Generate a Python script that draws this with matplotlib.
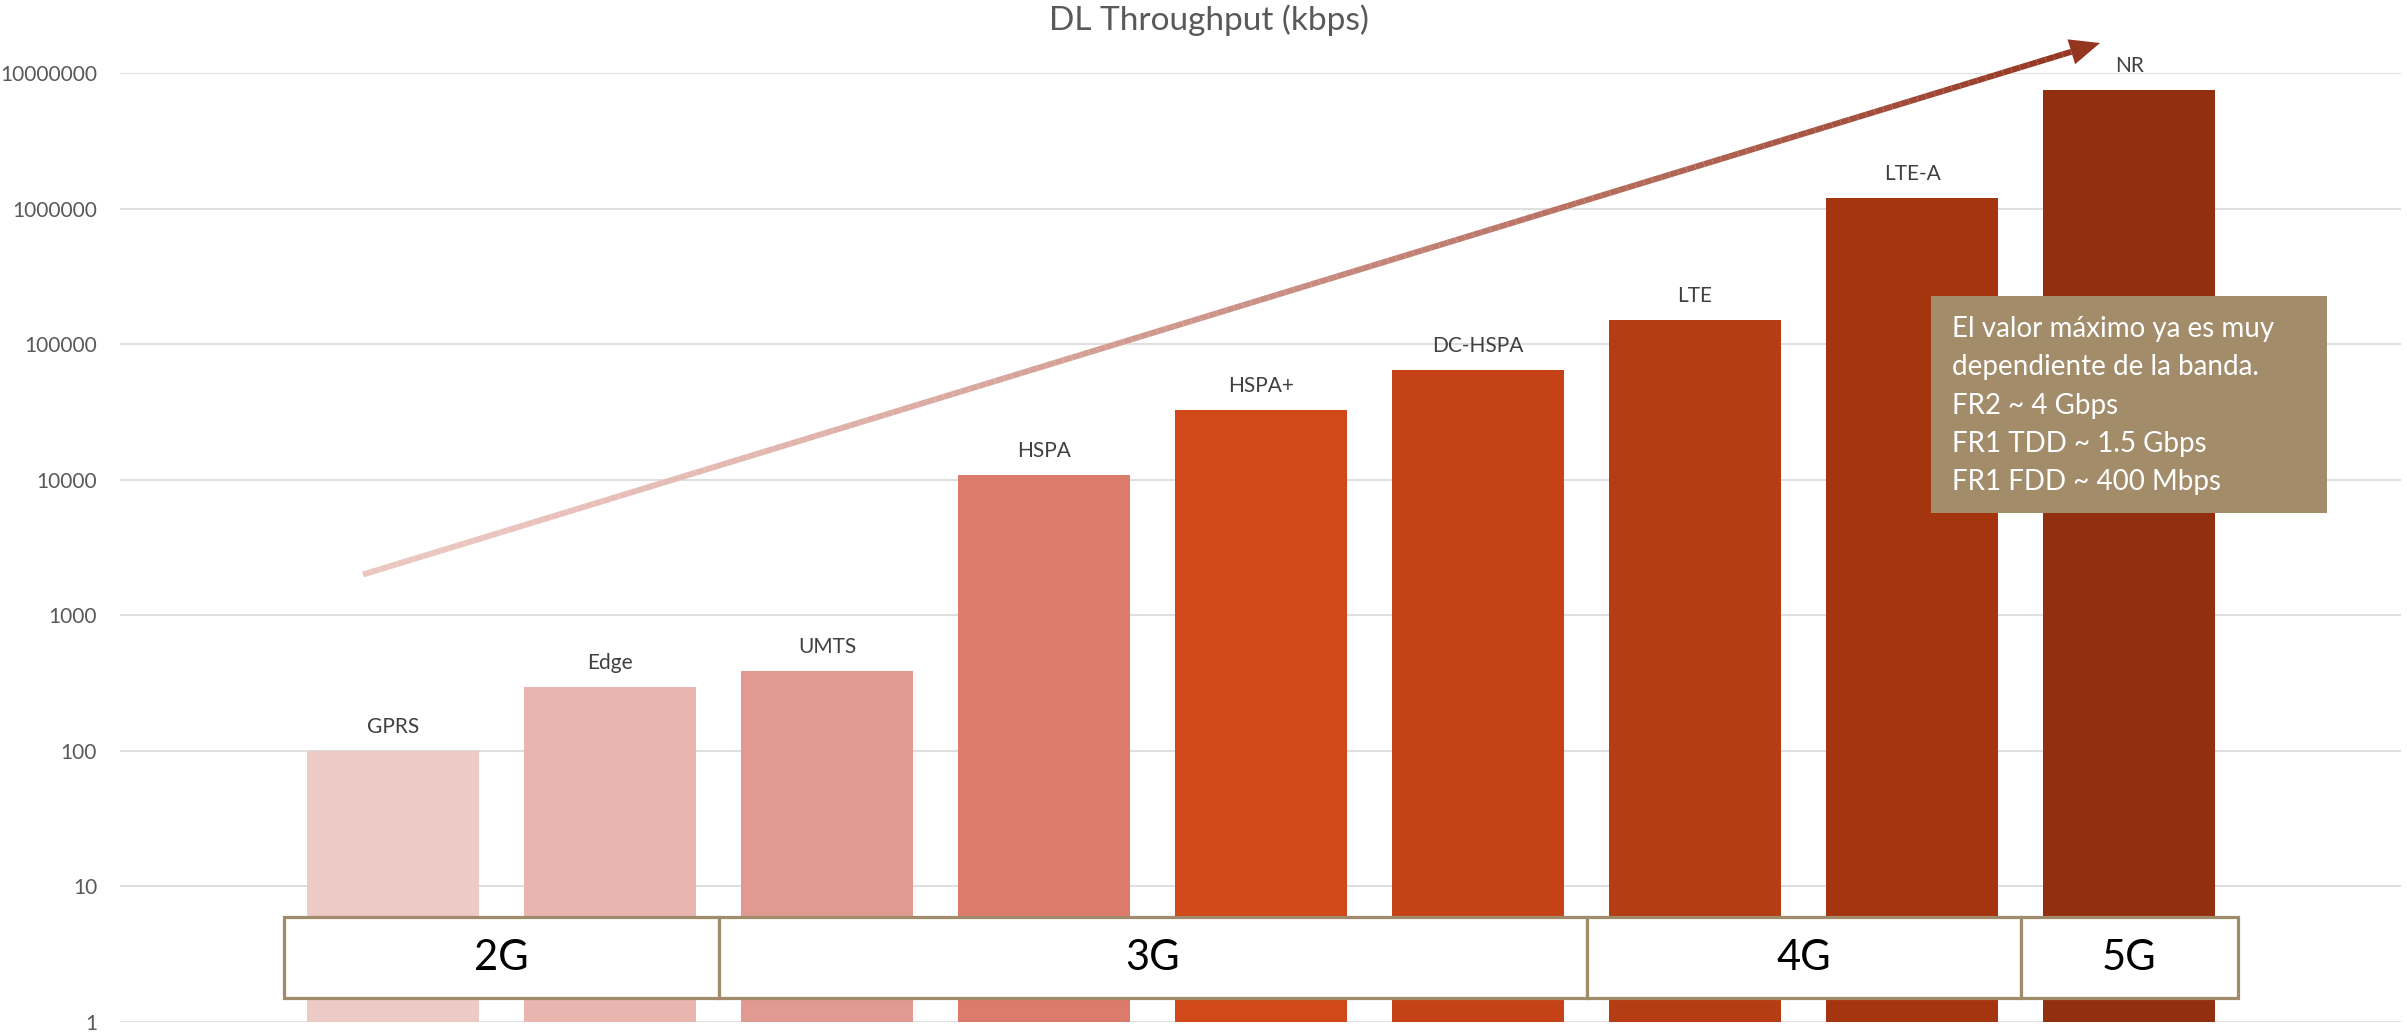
import numpy as np
import matplotlib
matplotlib.use("Agg")
import matplotlib.pyplot as plt
from matplotlib.patches import Rectangle, Polygon
from matplotlib.collections import LineCollection
from matplotlib.transforms import blended_transform_factory
from matplotlib.ticker import FixedLocator, FixedFormatter, NullLocator

# ---------------- data ----------------
technologies = ["GPRS", "Edge", "UMTS", "HSPA", "HSPA+", "DC-HSPA", "LTE", "LTE-A", "NR"]
throughput_kbps = [100, 296, 384, 10800, 32600, 64000, 150000, 1200000, 7500000]
bar_colors = ["#EDCAC6", "#E8B5AF", "#E09A91", "#DC7A6B", "#D14918",
              "#C44215", "#B53C13", "#A5350F", "#922F0F"]
y_ticks = [1, 10, 100, 1000, 10000, 100000, 1000000, 10000000]
y_tick_labels = ["1", "10", "100", "1000", "10000", "100000", "1000000", "10000000"]
generations = ["2G", "3G", "4G", "5G"]
generation_first = [0, 2, 6, 8]
generation_last = [1, 5, 7, 8]
title = "DL Throughput (kbps)"
note_lines = ["El valor máximo ya es muy",
              "dependiente de la banda.",
              "FR2 ~ 4 Gbps",
              "FR1 TDD ~ 1.5 Gbps",
              "FR1 FDD ~ 400 Mbps"]

# ---------------- figure ----------------
W, H = 2407, 1034
plt.rcParams['font.family'] = ['Lato', 'DejaVu Sans']
fig = plt.figure(figsize=(W / 100, H / 100), dpi=100)

def fx(px):
    return px / W

def fy(py):
    return 1 - py / H

ax_left, ax_right, ax_top, ax_bottom = 120, 2401, 73, 1021.7
ax = fig.add_axes([fx(ax_left), fy(ax_bottom), fx(ax_right - ax_left), (ax_bottom - ax_top) / H])

x = np.arange(len(technologies))
ax.bar(x, throughput_kbps, width=0.79, color=bar_colors, zorder=2, bottom=0)
ax.set_yscale("log")
ax.set_ylim(1, 1e7)
ax.set_xlim(-1.258, 9.253)

ax.yaxis.set_major_locator(FixedLocator(y_ticks))
ax.yaxis.set_major_formatter(FixedFormatter(y_tick_labels))
ax.yaxis.set_minor_locator(NullLocator())
ax.tick_params(axis="y", length=0, pad=16.5, labelsize=15, labelcolor="#595959")
ax.set_xticks([])
for s in ax.spines.values():
    s.set_visible(False)
ax.grid(axis="y", color="#D9D9D9", linewidth=1.2, zorder=0)
ax.set_axisbelow(True)

for xi, v, name in zip(x, throughput_kbps, technologies):
    ax.annotate(name, xy=(xi, v), xytext=(0, 13), textcoords="offset points",
                ha="center", va="baseline", fontsize=15, color="#404040", zorder=3)

# generation boxes
trans = blended_transform_factory(ax.transData, ax.transAxes)
box_y0, box_y1 = 0.025, 0.110
for lab, a, b in zip(generations, generation_first, generation_last):
    r = Rectangle((a - 0.5, box_y0), (b - a + 1), box_y1 - box_y0, transform=trans,
                  facecolor="white", edgecolor="#A08C6A", linewidth=2.3, zorder=5,
                  clip_on=False)
    ax.add_patch(r)
    ax.text((a + b) / 2, (box_y0 + box_y1) / 2, lab, transform=trans, ha="center",
            va="center", fontsize=30, color="black", zorder=6)

# title
fig.text(fx(1209), fy(30), title, ha="center", va="baseline", fontsize=24, color="#595959")

# gradient arrow (decoration)
sx, sy = 363, 574.5
tx, ty = 2100, 43
dx, dy = tx - sx, ty - sy
L = np.hypot(dx, dy)
ux, uy = dx / L, dy / L
head_len, head_half = 30, 13
bx, by = tx - head_len * ux, ty - head_len * uy
n = 200
ts = np.linspace(0, 1, n + 1)
px_ = sx + (bx - sx) * ts
py_ = sy + (by - sy) * ts
segs = [[(fx(px_[i]), fy(py_[i])), (fx(px_[i + 1]), fy(py_[i + 1]))] for i in range(n)]
c0 = np.array([236, 199, 193]) / 255
c1 = np.array([148, 53, 32]) / 255
tm = (ts[:-1] + ts[1:]) / 2
cols = [tuple(c0 + (c1 - c0) * (t ** 1.5)) for t in tm]
lc = LineCollection(segs, colors=cols, linewidths=4.3, transform=fig.transFigure,
                    capstyle="butt", zorder=4)
fig.add_artist(lc)
perp = (-uy, ux)
head = Polygon([(fx(tx), fy(ty)),
                (fx(bx + head_half * perp[0]), fy(by + head_half * perp[1])),
                (fx(bx - head_half * perp[0]), fy(by - head_half * perp[1]))],
               closed=True, transform=fig.transFigure, facecolor="#943520",
               edgecolor="none", zorder=4)
fig.add_artist(head)

# note box
note = Rectangle((fx(1931), fy(513)), fx(2327 - 1931), (513 - 296) / H,
                 transform=fig.transFigure, facecolor="#A28C6A", edgecolor="none", zorder=7)
fig.add_artist(note)
for i, line in enumerate(note_lines):
    fig.text(fx(1952), fy(337 + i * 38.3), line, ha="left", va="baseline",
             fontsize=20, color="white", zorder=8)

fig.savefig("out.png", dpi=100)
